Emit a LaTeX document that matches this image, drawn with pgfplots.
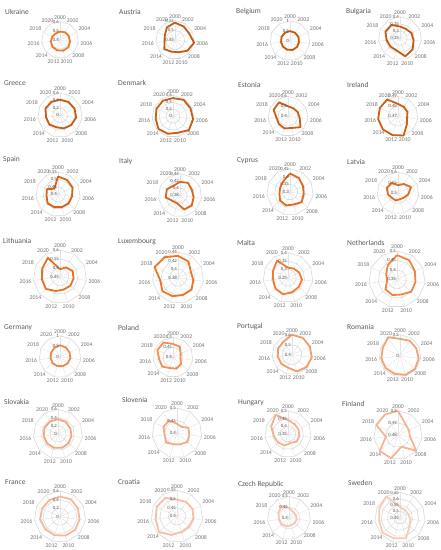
\documentclass[border=0pt]{standalone}
\usepackage{pgfplots}
\pgfplotsset{compat=1.18}
\usepackage{pgfplotstable}
\usepackage{fontspec}
\setmainfont{Carlito}

\definecolor{gridc}{HTML}{D9D9D9}
\definecolor{spokec}{HTML}{E4E4E4}
\definecolor{labc}{HTML}{767676}
\definecolor{vlabc}{HTML}{595959}
\definecolor{titc}{HTML}{595959}

\newcommand\tfont{\fontsize{7.5}{8}\selectfont}
\newcommand\xfont{\fontsize{5.8}{6}\selectfont}
\newcommand\rfont{\fontsize{4.8}{5}\selectfont}

\pgfkeys{/pgf/number format/.cd, fixed, precision=2, assume math mode=true}

% share of each year, one column per country (2022 repeats 2000 to close the shape)
\pgfplotstableread{
year Ukraine Austria Belgium Bulgaria Greece Denmark Estonia Ireland Spain Italy Cyprus Latvia Lithuania Luxembourg Malta Netherlands Germany Poland Portugal Romania Slovakia Slovenia Hungary Finland France Croatia Czech Sweden
2000 0.49  0.54  0.48 0.331 0.42  0.52 0.50  0.4824 0.52  0.417 0.419 0.537 0.492 0.431 0.31  0.478 0.55 0.467 0.6   0.4   0.36 0.437 0.44  0.50   0.47 0.496 0.446 0.536
2002 0.50  0.533 0.47 0.327 0.426 0.56 0.496 0.4811 0.514 0.421 0.407 0.551 0.512 0.425 0.315 0.47  0.52 0.463 0.6   0.425 0.35 0.43  0.427 0.491  0.48 0.499 0.434 0.522
2004 0.504 0.531 0.46 0.337 0.432 0.55 0.506 0.4804 0.508 0.416 0.392 0.568 0.528 0.413 0.324 0.454 0.5  0.442 0.596 0.425 0.33 0.45  0.424 0.4898 0.46 0.499 0.434 0.52
2006 0.51  0.55  0.45 0.345 0.438 0.58 0.518 0.4792 0.495 0.418 0.389 0.549 0.527 0.416 0.335 0.449 0.5  0.438 0.6   0.45  0.33 0.45  0.424 0.490  0.46 0.496 0.436 0.534
2008 0.52  0.535 0.47 0.366 0.40  0.6  0.566 0.4818 0.493 0.423 0.399 0.535 0.527 0.422 0.335 0.45  0.48 0.453 0.59  0.475 0.34 0.455 0.424 0.5    0.47 0.49  0.435 0.55
2010 0.52  0.516 0.48 0.38  0.366 0.49 0.522 0.49   0.49  0.421 0.384 0.531 0.525 0.422 0.34  0.434 0.47 0.459 0.574 0.475 0.35 0.447 0.41  0.49   0.46 0.494 0.435 0.62
2012 0.516 0.513 0.47 0.337 0.336 0.52 0.526 0.4896 0.49  0.404 0.39  0.537 0.534 0.425 0.354 0.437 0.46 0.456 0.536 0.45  0.35 0.447 0.427 0.5    0.45 0.512 0.44  0.62
2014 0.51  0.523 0.46 0.337 0.378 0.55 0.52  0.49   0.492 0.405 0.384 0.537 0.555 0.428 0.35  0.431 0.47 0.471 0.54  0.45  0.35 0.458 0.434 0.5    0.45 0.538 0.443 0.632
2016 0.50  0.505 0.45 0.343 0.378 0.5  0.516 0.49   0.478 0.42  0.369 0.548 0.553 0.422 0.34  0.403 0.45 0.47  0.544 0.45  0.35 0.45  0.442 0.49   0.47 0.524 0.446 0.616
2018 0.49  0.508 0.46 0.361 0.432 0.52 0.558 0.49   0.483 0.42  0.369 0.559 0.56  0.44  0.349 0.413 0.46 0.486 0.552 0.45  0.36 0.46  0.469 0.4996 0.46 0.529 0.454 0.63
2020 0.484 0.528 0.47 0.36  0.432 0.53 0.566 0.49   0.445 0.412 0.381 0.557 0.576 0.437 0.371 0.44  0.5  0.488 0.556 0.525 0.36 0.459 0.496 0.5    0.46 0.526 0.466 0.65
2022 0.49  0.54  0.48 0.331 0.42  0.52 0.50  0.4824 0.52  0.417 0.419 0.537 0.492 0.431 0.31  0.478 0.55 0.467 0.6   0.4   0.36 0.437 0.44  0.50   0.47 0.496 0.446 0.536
}\data

% #1 cx, #2 cy, #3 radius, #4 column, #5 inner value, #6 step, #7 steps, #8 colour
\newcommand{\radar}[8]{%
  \definecolor{cur}{HTML}{#8}%
  \begin{scope}[shift={(#1pt,-#2pt)}]
    \foreach \a in {0,...,10}{ \draw[spokec, line width=0.45pt] (0,0) -- ({90-\a*32.72727}:#3pt); }
    \foreach \k in {1,...,#7}{%
      \draw[gridc, line width=0.6pt] (90:{\k/#7*#3pt}) \foreach \a in {1,...,10}{ -- ({90-\a*32.72727}:{\k/#7*#3pt}) } -- cycle;
    }
    \foreach \a in {0,...,10}{%
      \pgfmathtruncatemacro\yr{2000+2*\a}%
      \pgfmathsetmacro\ang{90-\a*32.72727}%
      \pgfmathsetmacro\anc{\ang+180}%
      \node[font=\xfont, text=labc, inner sep=0.8pt, anchor=\anc] at (\ang:{#3pt+1.2pt}) {\yr};
    }
  \end{scope}
  \begin{axis}[at={(#1pt,-#2pt)}, anchor=center, x=#3pt, y=#3pt,
      xmin=-1, xmax=1, ymin=-1, ymax=1, hide axis, clip=false]
    \addplot[draw=cur, line width=1.8pt, line join=round, data cs=polar]
      table[x expr={90-(\thisrow{year}-2000)*16.363636}, y expr={(\thisrow{#4}-#5)/(#6*#7)}] {\data};
  \end{axis}
  \foreach \k in {0,...,#7}{%
    \pgfmathsetmacro\val{#5+\k*#6}%
    \node[anchor=east, font=\rfont, text=vlabc, inner sep=0.6pt] at ({#1pt-0.3pt},{-#2pt+\k/#7*#3pt}) {\pgfmathprintnumber{\val}};
  }%
}

\newcommand{\ttl}[3]{\node[anchor=west, font=\tfont, text=titc, inner sep=0pt] at (#1pt,-#2pt) {#3};}

\begin{document}
\begin{tikzpicture}
\path[use as bounding box] (0,0) rectangle (441pt,-550pt);

% row 1
\ttl{5}{12}{Ukraine}\radar{60}{40}{18.5}{Ukraine}{0.4}{0.1}{2}{ED7D31}
\ttl{119}{12}{Austria}\radar{175}{40}{19.3}{Austria}{0.45}{0.05}{2}{C55A11}
\ttl{236}{12}{Belgium}\radar{290}{40.7}{20}{Belgium}{0}{0.5}{2}{C55A11}
\ttl{346}{12}{Bulgaria}\radar{400}{38.3}{21.7}{Bulgaria}{0.25}{0.05}{3}{C65B12}
% row 2
\ttl{4}{83}{Greece}\radar{60}{115.3}{22.3}{Greece}{0}{0.2}{3}{C85C12}
\ttl{118}{83}{Denmark}\radar{173}{116.3}{21}{Denmark}{0}{0.2}{3}{CA5D14}
\ttl{238}{85}{Estonia}\radar{288}{116.3}{20}{Estonia}{0.4}{0.1}{2}{CC5E15}
\ttl{347}{85}{Ireland}\radar{398}{116.3}{20}{Ireland}{0.47}{0.01}{2}{CE6016}
% row 3
\ttl{3}{160}{Spain}\radar{58}{194.3}{22.3}{Spain}{0.4}{0.05}{3}{D36418}
\ttl{119}{161}{Italy}\radar{180}{195.3}{21.7}{Italy}{0.38}{0.02}{3}{D8681A}
\ttl{237}{161}{Cyprus}\radar{290}{192}{23.3}{Cyprus}{0.3}{0.05}{3}{DC6A1C}
\ttl{347}{162}{Latvia}\radar{398}{193}{21}{Latvia}{0.5}{0.05}{2}{E06E1F}
% row 4
\ttl{3}{241}{Lithuania}\radar{60}{276.7}{26.7}{Lithuania}{0.45}{0.05}{3}{E57222}
\ttl{118}{242}{Luxembourg}\radar{178}{277.7}{25.7}{Luxembourg}{0.38}{0.02}{3}{EA7626}
\ttl{237}{243}{Malta}\radar{288}{277.7}{25}{Malta}{0.25}{0.05}{3}{ED7D31}
\ttl{347}{243}{Netherlands}\radar{397}{279.3}{28.3}{Netherlands}{0.35}{0.05}{3}{EF8540}
% row 5
\ttl{4}{328}{Germany}\radar{60}{356.7}{21}{Germany}{0}{0.5}{2}{F08A4C}
\ttl{118}{328}{Poland}\radar{173}{357.3}{20}{Poland}{0.4}{0.05}{2}{F18F55}
\ttl{237}{327}{Portugal}\radar{292}{354.7}{20}{Portugal}{0.4}{0.1}{2}{F29C6B}
\ttl{347}{327}{Romania}\radar{400}{355.7}{21}{Romania}{0}{0.5}{1}{F3A276}
% row 6
\ttl{4}{402}{Slovakia}\radar{58}{434}{24.7}{Slovakia}{0}{0.2}{3}{F4A67E}
\ttl{122}{400}{Slovenia}\radar{177}{433}{25}{Slovenia}{0.4}{0.05}{2}{F4AA85}
\ttl{238}{403}{Hungary}\radar{288}{434}{23.3}{Hungary}{0.35}{0.05}{3}{F5B08F}
\ttl{342}{404}{Finland}\radar{398}{435}{24.3}{Finland}{0.48}{0.01}{2}{F5B496}
% row 7
\ttl{5}{482}{France}\radar{60}{516.7}{25.7}{France}{0}{0.2}{3}{F6B89C}
\ttl{118}{482}{Croatia}\radar{177}{516.3}{26}{Croatia}{0.4}{0.05}{3}{F7BEA5}
\ttl{238}{484}{Czech Republic}\radar{289}{518}{21.7}{Czech}{0.4}{0.05}{2}{F8C5AE}
\ttl{348}{483}{Sweden}\radar{400}{517.7}{25.3}{Sweden}{0.45}{0.05}{4}{F8CBB6}
\end{tikzpicture}
\end{document}
